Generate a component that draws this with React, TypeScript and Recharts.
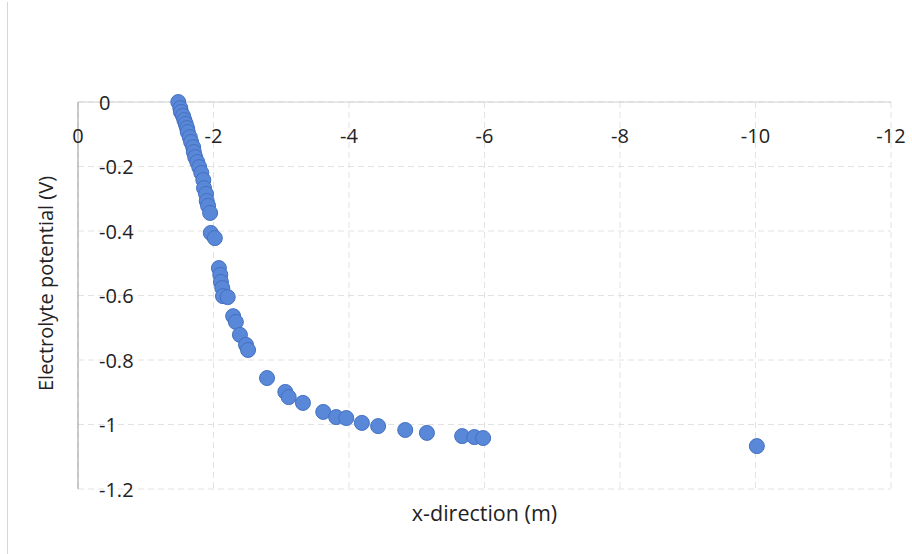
import React from "react";
import { ScatterChart, Scatter, XAxis, YAxis, CartesianGrid, Label } from "recharts";

const xValues = [
  -1.48, -1.51, -1.52, -1.55, -1.57, -1.59, -1.61, -1.62, -1.65, -1.67,
  -1.7, -1.71, -1.73, -1.76, -1.79, -1.82, -1.85, -1.86, -1.89, -1.9,
  -1.92, -1.95, -1.96, -2.02, -2.08, -2.1, -2.11, -2.13, -2.14, -2.21,
  -2.29, -2.33, -2.39, -2.48, -2.51, -2.79, -3.06, -3.11, -3.32, -3.62,
  -3.81, -3.96, -4.19, -4.43, -4.83, -5.15, -5.67, -5.85, -5.98, -10.02,
];
const yValues = [
  0, -0.019, -0.031, -0.043, -0.056, -0.068, -0.081, -0.093, -0.109, -0.124,
  -0.14, -0.155, -0.171, -0.186, -0.202, -0.22, -0.242, -0.267, -0.285, -0.307,
  -0.322, -0.344, -0.406, -0.422, -0.515, -0.536, -0.558, -0.577, -0.602, -0.605,
  -0.664, -0.682, -0.722, -0.753, -0.769, -0.856, -0.899, -0.915, -0.933, -0.961,
  -0.977, -0.98, -0.995, -1.005, -1.017, -1.026, -1.036, -1.039, -1.042, -1.067,
];
const xTicks = [0, -2, -4, -6, -8, -10, -12];
const yTicks = [0, -0.2, -0.4, -0.6, -0.8, -1, -1.2];

const data = xValues.map((x, i) => ({ x, y: yValues[i] }));

const FONT = "'Open Sans', 'Noto Sans', sans-serif";

const XTick = (props: any) => {
  const { x, y, payload } = props;
  return (
    <text x={x} y={y + 33} textAnchor="middle" dominantBaseline="central"
      fontFamily={FONT} fontSize={20} fill="#222">
      {String(payload.value)}
    </text>
  );
};

const YTick = (props: any) => {
  const { x, y, payload } = props;
  return (
    <text x={x + 21} y={y} textAnchor="start" dominantBaseline="central"
      fontFamily={FONT} fontSize={20} fill="#222">
      {String(payload.value)}
    </text>
  );
};

const Dot = (props: any) => {
  const { cx, cy } = props;
  if (cx == null || cy == null) return null;
  return <circle cx={cx} cy={cy} r={7.5} fill="#5a88d8" stroke="#4470c0" strokeWidth={1} />;
};

const XLabel = (props: any) => {
  const vb = props.viewBox || {};
  return (
    <text x={vb.x + vb.width / 2} y={vb.y + 23} textAnchor="middle" dominantBaseline="central"
      fontFamily={FONT} fontSize={21.5} fill="#222">
      x-direction (m)
    </text>
  );
};

const YLabel = (props: any) => {
  const vb = props.viewBox || {};
  const cx = 45;
  const cy = vb.y + vb.height / 2 - 12;
  return (
    <text x={cx} y={cy} textAnchor="middle" dominantBaseline="central"
      transform={`rotate(-90 ${cx} ${cy})`} fontFamily={FONT} fontSize={20} fill="#222">
      Electrolyte potential (V)
    </text>
  );
};

export default function App() {
  return (
    <div style={{ position: "absolute", left: 0, top: 0, width: 912, height: 554, background: "#fff" }}>
      <div style={{ position: "absolute", left: 7, top: 2, width: 1, height: 552, background: "#d6d6d6" }} />
      <ScatterChart width={912} height={554} margin={{ top: 72, right: 21, bottom: 25, left: 0 }}>
        <CartesianGrid stroke="#e2e2e2" strokeDasharray="6 4" />
        <XAxis
          dataKey="x"
          type="number"
          orientation="top"
          domain={[-12, 0]}
          reversed
          ticks={xTicks}
          interval={0}
          height={30}
          axisLine={{ stroke: "#d0d0d0" }}
          tickLine={false}
          tickSize={0}
          tickMargin={0}
          tick={<XTick />}
        />
        <XAxis
          xAxisId="bottom"
          dataKey="x"
          type="number"
          orientation="bottom"
          domain={[-12, 0]}
          reversed
          height={40}
          axisLine={false}
          tickLine={false}
          tick={false}
        >
          <Label content={<XLabel />} />
        </XAxis>
        <YAxis
          dataKey="y"
          type="number"
          domain={[-1.2, 0]}
          ticks={yTicks}
          interval={0}
          width={78}
          axisLine={{ stroke: "#9a9a9a" }}
          tickLine={false}
          tickSize={0}
          tickMargin={0}
          tick={<YTick />}
        >
          <Label content={<YLabel />} />
        </YAxis>
        <Scatter data={data} shape={<Dot />} isAnimationActive={false} />
      </ScatterChart>
    </div>
  );
}
